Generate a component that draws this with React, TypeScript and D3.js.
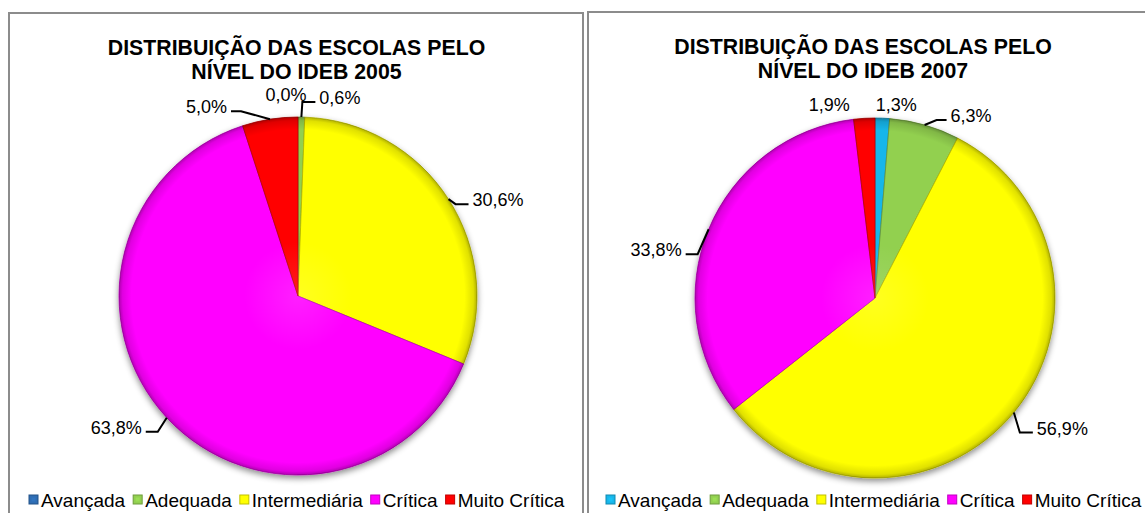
import React, { useEffect, useRef } from "react";
import * as d3 from "d3";

const categories = ["Avançada", "Adequada", "Intermediária", "Crítica", "Muito Crítica"];
const values2005 = [0.0, 0.6, 30.6, 63.8, 5.0];
const values2007 = [1.3, 6.3, 56.9, 33.8, 1.9];
const colors2005 = ["#2f6db3", "#92d050", "#ffff00", "#ff00ff", "#ff0000"];
const colors2007 = ["#17b6ea", "#92d050", "#ffff00", "#ff00ff", "#ff0000"];
const titleLine1 = "DISTRIBUIÇÃO DAS ESCOLAS PELO";
const titleLine2_2005 = "NÍVEL DO IDEB 2005";
const titleLine2_2007 = "NÍVEL DO IDEB 2007";

type LabelLayout = { ex: number; ey: number; h: number; leader: boolean };

const charts = [
  {
    id: "a",
    values: values2005,
    colors: colors2005,
    title: [titleLine1, titleLine2_2005],
    panelX: 9,
    panelY: 13,
    panelW: 574,
    cx: 298,
    cy: 296,
    r: 179,
    titleX: 296.5,
    titleY: 55,
    legendX: 29,
    labels: [
      { ex: -12, ey: -16, h: 0, leader: false },
      { ex: 1, ey: -15, h: 13, leader: true },
      { ex: 7, ey: 5, h: 13, leader: true },
      { ex: -9, ey: 14, h: -12, leader: true },
      { ex: -29, ey: -8, h: -10, leader: true },
    ] as LabelLayout[],
  },
  {
    id: "b",
    values: values2007,
    colors: colors2007,
    title: [titleLine1, titleLine2_2007],
    panelX: 588,
    panelY: 12,
    panelW: 600,
    cx: 875,
    cy: 298,
    r: 180,
    titleX: 863,
    titleY: 54,
    legendX: 606,
    labels: [
      { ex: 14, ey: -7, h: 0, leader: false },
      { ex: 12, ey: -5, h: 10, leader: true },
      { ex: 6, ey: 20, h: 13, leader: true },
      { ex: -11, ey: 25, h: -12, leader: true },
      { ex: -35, ey: -7, h: 0, leader: false },
    ] as LabelLayout[],
  },
];

const fmt = (v: number) => v.toFixed(1).replace(".", ",") + "%";
const FONT = "'Liberation Sans', Arial, sans-serif";

export default function App() {
  const ref = useRef<SVGSVGElement | null>(null);

  useEffect(() => {
    const svg = d3.select(ref.current);
    svg.selectAll("*").remove();
    const defs = svg.append("defs");

    const shadow = defs.append("filter").attr("id", "shadow").attr("x", "-20%").attr("y", "-20%").attr("width", "140%").attr("height", "140%");
    shadow.append("feDropShadow").attr("dx", 0).attr("dy", 3).attr("stdDeviation", 3)
      .attr("flood-color", "#000").attr("flood-opacity", 0.45);

    charts.forEach((c) => {
      const g = svg.append("g");
      g.append("rect")
        .attr("x", c.panelX).attr("y", c.panelY)
        .attr("width", c.panelW).attr("height", 600)
        .attr("fill", "#fff").attr("stroke", "#8c8c8c").attr("stroke-width", 2);

      c.title.forEach((t, i) => {
        g.append("text")
          .attr("x", c.titleX).attr("y", c.titleY + i * 24)
          .attr("text-anchor", "middle")
          .attr("font-family", FONT).attr("font-weight", "bold").attr("font-size", 21.3)
          .attr("fill", "#000").text(t);
      });

      const pie = d3.pie<number>().sort(null).value((d) => d).startAngle(0).endAngle(2 * Math.PI);
      const arcs = pie(c.values);
      const arc = d3.arc<d3.PieArcDatum<number>>().innerRadius(0).outerRadius(c.r);

      const rg = defs.append("radialGradient").attr("id", "bevel" + c.id)
        .attr("gradientUnits", "userSpaceOnUse").attr("cx", 0).attr("cy", 0).attr("r", c.r);
      rg.append("stop").attr("offset", "0%").attr("stop-color", "#fff").attr("stop-opacity", 0.12);
      rg.append("stop").attr("offset", "30%").attr("stop-color", "#fff").attr("stop-opacity", 0);
      rg.append("stop").attr("offset", "93%").attr("stop-color", "#000").attr("stop-opacity", 0);
      rg.append("stop").attr("offset", "98%").attr("stop-color", "#000").attr("stop-opacity", 0.12);
      rg.append("stop").attr("offset", "100%").attr("stop-color", "#000").attr("stop-opacity", 0.3);

      const pg = g.append("g").attr("transform", `translate(${c.cx},${c.cy})`);
      const sg = pg.append("g").attr("filter", "url(#shadow)");
      sg.selectAll("path.slice").data(arcs).enter().append("path")
        .attr("class", "slice")
        .attr("d", arc as any)
        .attr("fill", (d, i) => c.colors[i])
        .attr("stroke", (d, i) => d3.color(c.colors[i])!.darker(0.9).formatHex())
        .attr("stroke-width", (d) => (d.endAngle - d.startAngle > 0 ? 0.8 : 0))
        .attr("stroke-linejoin", "round");
      pg.selectAll("path.bev").data(arcs).enter().append("path")
        .attr("class", "bev")
        .attr("d", arc as any)
        .attr("fill", `url(#bevel${c.id})`)
        .attr("pointer-events", "none");

      arcs.forEach((a, i) => {
        const L = c.labels[i];
        const mid = (a.startAngle + a.endAngle) / 2;
        const px = c.cx + c.r * Math.sin(mid);
        const py = c.cy - c.r * Math.cos(mid);
        const ex = px + L.ex;
        const ey = py + L.ey;
        const txt = fmt(c.values[i]);
        if (L.leader) {
          const hx = ex + L.h;
          g.append("path")
            .attr("d", `M${px},${py}L${ex},${ey}L${hx},${ey}`)
            .attr("fill", "none").attr("stroke", "#000").attr("stroke-width", 2);
          g.append("text")
            .attr("x", L.h >= 0 ? hx + 4 : hx - 4)
            .attr("y", ey + 2)
            .attr("text-anchor", L.h >= 0 ? "start" : "end")
            .attr("font-family", FONT).attr("font-size", 18).attr("fill", "#000")
            .text(txt);
        } else {
          g.append("text")
            .attr("x", ex).attr("y", ey)
            .attr("text-anchor", "middle")
            .attr("font-family", FONT).attr("font-size", 18).attr("fill", "#000")
            .text(txt);
        }
      });

      let x = c.legendX;
      const ly = 507;
      categories.forEach((cat, i) => {
        const col = c.colors[i];
        g.append("rect").attr("x", x).attr("y", ly - 12).attr("width", 9).attr("height", 9)
          .attr("fill", col).attr("stroke", d3.color(col)!.darker(0.8).formatHex()).attr("stroke-width", 1);
        g.append("rect").attr("x", x + 2.5).attr("y", ly - 9.5).attr("width", 4).attr("height", 4)
          .attr("fill", d3.color(col)!.brighter(0.3).formatHex()).attr("opacity", 0.6);
        const t = g.append("text").attr("x", x + 12).attr("y", ly)
          .attr("font-family", FONT).attr("font-size", 19).attr("fill", "#000").text(cat);
        const w = (t.node() as SVGTextElement).getComputedTextLength();
        x += 12 + w + 8;
      });
    });
  }, []);

  return (
    <div style={{ position: "fixed", left: 0, top: 0 }}>
      <svg ref={ref} width={1145} height={513} style={{ display: "block", background: "#fff" }} />
    </div>
  );
}
